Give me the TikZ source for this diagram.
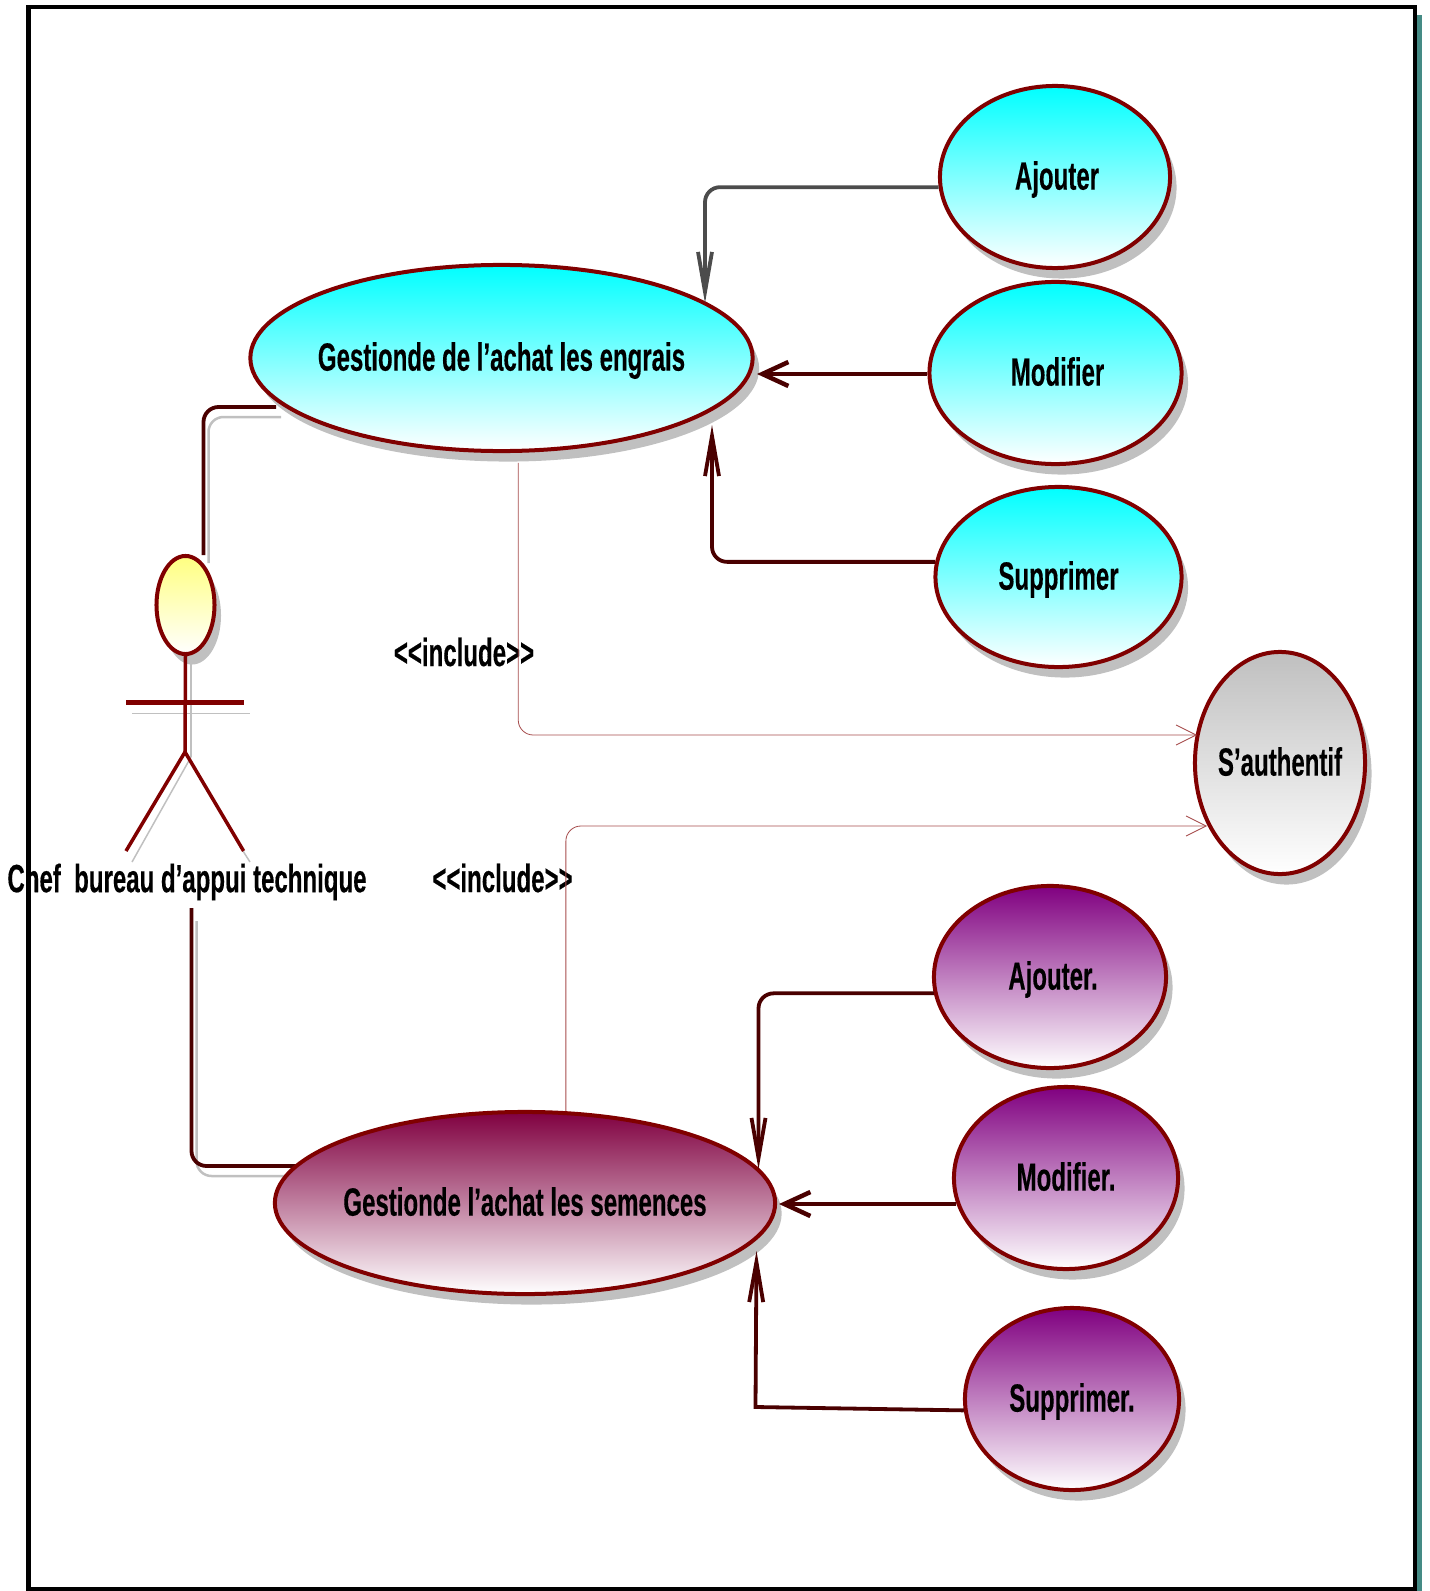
\documentclass[tikz,border=0pt]{standalone}
\usepackage{fontspec}
\setmainfont{Liberation Sans}[FakeStretch=0.61, BoldFeatures={FakeBold=0.3}]
\usetikzlibrary{arrows.meta,shapes.geometric,shadows}
\definecolor{bordeau}{HTML}{800000}
\definecolor{lien}{HTML}{4A0000}
\definecolor{ombre}{HTML}{C0C0C0}
\definecolor{sarcelle}{HTML}{458B85}
\definecolor{violetcas}{HTML}{800080}
\definecolor{bordeaucas}{HTML}{800040}
\newcommand{\etiq}[2][-.035cm]{\strut\smash{\raisebox{#1}{\makebox[0pt]{#2}}}}
\tikzset{
	cas/.style={ellipse, draw=bordeau, line width=.04cm, inner sep=0pt, font=\bfseries\fontsize{11.2}{13}\selectfont, drop shadow={shadow xshift=.065cm, shadow yshift=-.105cm, opacity=1, fill=ombre}},
	casbleu/.style={cas, top color=cyan, bottom color=white},
	casviolet/.style={cas, top color=violetcas, bottom color=white},
	casbordeau/.style={cas, top color=bordeaucas, bottom color=white},
	casgris/.style={cas, top color=black!25, bottom color=white},
	texte/.style={font=\bfseries\fontsize{11.2}{13}\selectfont, inner sep=0pt},
	lienfort/.style={draw=lien, line width=.038cm, rounded corners=.15cm},
	liengris/.style={draw=ombre, line width=.025cm, rounded corners=.15cm},
	fleche/.style={lienfort, -{Straight Barb[length=.40cm, width=.14cm]}},
	flechecourte/.style={draw=lien, line width=.045cm, -{Straight Barb[length=.26cm, width=.24cm]}},
	inclusion/.style={draw=bordeau!70, line width=.008cm, rounded corners=.15cm, -{Straight Barb[length=.20cm, width=.20cm]}},
}
\begin{document}
\begin{tikzpicture}[x=.01cm, y=-.01cm]
	\useasboundingbox (0,0) rectangle (1429,1591);
	% cadre
	\fill[sarcelle] (1417,15) rectangle (1422,1591);
	\draw[line width=.045cm] (28.5,7) rectangle (1415,1589);
	% acteur
	\node (acteur) at (185.5,605) [cas, top color=yellow!50, bottom color=white, minimum width=.58cm, minimum height=.98cm] {};
	\draw[ombre, line width=.015cm] (191,660) -- (191,757);
	\draw[ombre, line width=.015cm] (132,713.5) -- (250,713.5);
	\draw[ombre, line width=.015cm] (191,757) -- (132,862);
	\draw[ombre, line width=.015cm] (243,851) -- (250,862);
	\coordinate (bassin) at (185,752);
	\draw[bordeau, line width=.035cm] (acteur.south) -- (bassin);
	\draw[bordeau, line width=.046cm] (126,702.5) -- (243.6,702.5);
	\draw[bordeau, line width=.035cm] (126,851) -- (bassin) -- (243.6,851);
	\node (nomacteur) at (187,882) [texte] {Chef\ \ bureau d’appui technique};
	% associations
	\coordinate (asso1) at (276,407);
	\coordinate (asso2) at (203.5,555);
	\coordinate (asso3) at (191.5,908);
	\coordinate (asso4) at (297,1166);
	\draw[liengris] ([shift={(5,10)}]asso1) -| ([shift={(5,8)}]asso2);
	\draw[liengris] ([shift={(5,13)}]asso3) |- ([shift={(3,10)}]asso4);
	\draw[lienfort] (asso1) -| (asso2);
	\draw[lienfort] (asso3) |- (asso4);
	% cas
	\node (engrais) at (501.5,358) [casbleu, minimum width=5.02cm, minimum height=1.86cm] {\etiq{Gestionde de l’achat les engrais}};
	\node (ajouter) at (1055,177) [casbleu, minimum width=2.30cm, minimum height=1.82cm] {\etiq{\hspace*{.04cm}Ajouter}};
	\node (modifier) at (1055.5,373) [casbleu, minimum width=2.52cm, minimum height=1.82cm] {\etiq{\hspace*{.04cm}Modifier}};
	\node (supprimer) at (1058.5,577) [casbleu, minimum width=2.46cm, minimum height=1.80cm] {\etiq{Supprimer}};
	\node (sauth) at (1280,763) [casgris, minimum width=1.70cm, minimum height=2.22cm] {\etiq{S’authentif}};
	\node (semences) at (525,1203) [casbordeau, minimum width=5.00cm, minimum height=1.82cm] {\etiq{Gestionde l’achat les semences}};
	\node (ajouterb) at (1050,977) [casviolet, minimum width=2.32cm, minimum height=1.82cm] {\etiq{\hspace*{.06cm}Ajouter.}};
	\node (modifierb) at (1066,1178) [casviolet, minimum width=2.24cm, minimum height=1.82cm] {\etiq{Modifier.}};
	\node (supprimerb) at (1072,1399) [casviolet, minimum width=2.14cm, minimum height=1.82cm] {\etiq{Supprimer.}};
	\node (incl1) at (464,652) [texte] {<{}<include>{}>};
	\node (incl2) at (502.5,878) [texte] {<{}<include>{}>};
	% liens vers les cas
	\coordinate (fin1) at (757,374);
	\coordinate (fin2) at (712,425);
	\coordinate (fin3) at (779,1204);
	\coordinate (fin4) at (758.5,1169);
	\coordinate (coin1) at (755.5,1407);
	\coordinate (fin5) at (756.5,1251);
	\coordinate (fin6) at (1197,735);
	\coordinate (fin7) at (1207,826);
	\coordinate (fin8) at (705,303);
	\draw[fleche, draw=black!70] (ajouter.185) -| (fin8);
	\draw[flechecourte] (modifier.west |- fin1) -- (fin1);
	\draw[fleche] (supprimer.173) -| (fin2);
	\draw[fleche] (ajouterb.188) -| (fin4);
	\draw[flechecourte] (modifierb.193 |- fin3) -- (fin3);
	\draw[fleche, rounded corners=0pt] (supprimerb.186) -- (coin1) -- (fin5);
	\draw[inclusion] ([yshift=-.10cm]engrais.-80) |- (fin6);
	\draw[inclusion] (semences.66) |- (fin7);
\end{tikzpicture}
\end{document}
